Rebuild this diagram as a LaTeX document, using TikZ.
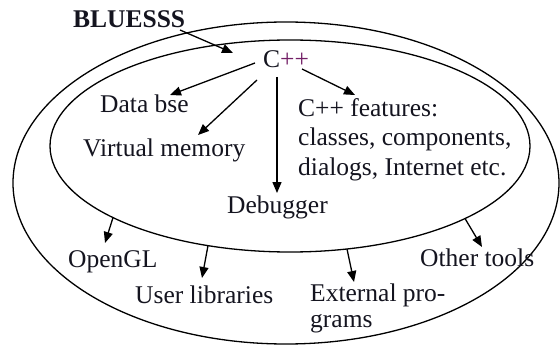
\documentclass[tikz,border=0pt]{standalone}
\usepackage{fontspec}
\setmainfont{Liberation Serif}
\usetikzlibrary{arrows.meta}
\definecolor{pp}{rgb}{0.45,0.12,0.40}
\definecolor{ink}{rgb}{0.08,0.08,0.12}
\begin{document}
\begin{tikzpicture}[x=1pt,y=-1pt,
  lbl/.style={anchor=base west,inner sep=0pt,text=ink,font=\fontsize{25.5}{29}\selectfont},
  arr/.style={line width=1.3pt,-{Triangle[length=11pt,width=9pt]}},
  ell/.style={line width=1.3pt}]
\useasboundingbox (0,0) rectangle (560,345);
% ellipses
\draw[ell] (286,183) ellipse [x radius=273, y radius=161];
\draw[ell] (290,146) ellipse [x radius=240, y radius=106];
% labels
\node[lbl,font=\fontsize{25.5}{29}\selectfont\bfseries] (blue) at (73,28) {BLUESSS};
\node[lbl] (cpp) at (263,68) {C\textcolor{pp}{++}};
\node[lbl] (data) at (100,113) {Data bse};
\node[lbl] (virt) at (83,157) {Virtual memory};
\node[lbl] (feat1) at (298,117) {C++ features:};
\node[lbl] (feat2) at (298,146) {classes, components,};
\node[lbl] (feat3) at (298,175) {dialogs, Internet etc.};
\node[lbl] (debug) at (227,213) {Debugger};
\node[lbl] (ogl) at (68,267) {OpenGL};
\node[lbl] (other) at (420,266) {Other tools};
\node[lbl] (user) at (135,303) {User libraries};
\node[lbl] (ext1) at (310,301) {External pro-};
\node[lbl] (ext2) at (310,327) {grams};
% connector end points
\coordinate (bS) at (180,30);  \coordinate (bT) at (233,53);
\coordinate (dS) at (255,63);  \coordinate (dT) at (170,95);
\coordinate (vS) at (257,80);  \coordinate (vT) at (198,135);
\coordinate (gS) at (277,77);  \coordinate (gT) at (277,193);
\coordinate (fS) at (302,69);  \coordinate (fT) at (355,95);
\coordinate (oS) at (113,217.6); \coordinate (oT) at (105,243);
\coordinate (uS) at (208,245.6); \coordinate (uT) at (202,278);
\coordinate (eS) at (347,249);  \coordinate (eT) at (354,282);
\coordinate (tS) at (465,218.5); \coordinate (tT) at (482,247);
% connectors
\draw[arr] (bS) -- (bT);
\draw[arr] (dS) -- (dT);
\draw[arr] (vS) -- (vT);
\draw[arr] (gS) -- (gT);
\draw[arr] (fS) -- (fT);
\draw[arr] (oS) -- (oT);
\draw[arr] (uS) -- (uT);
\draw[arr] (eS) -- (eT);
\draw[arr] (tS) -- (tT);
\end{tikzpicture}
\end{document}
